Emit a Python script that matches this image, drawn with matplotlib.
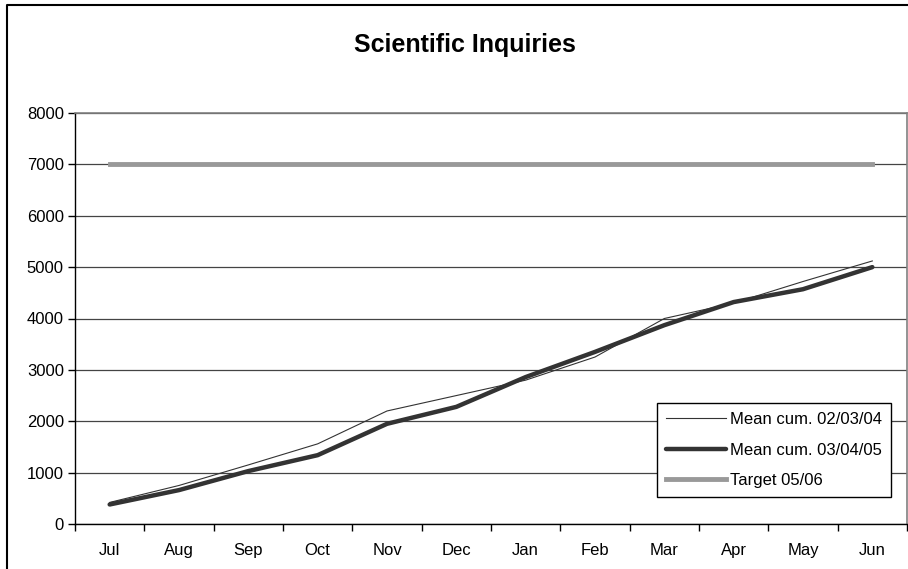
import numpy as np
import matplotlib.pyplot as plt
from matplotlib.lines import Line2D

plt.rcParams['font.family'] = ['Liberation Sans', 'DejaVu Sans']

months = ["Jul", "Aug", "Sep", "Oct", "Nov", "Dec", "Jan", "Feb", "Mar", "Apr", "May", "Jun"]
mean_0304 = [420, 750, 1150, 1560, 2200, 2500, 2800, 3250, 4000, 4300, 4720, 5120]
mean_0405 = [380, 660, 1030, 1340, 1950, 2280, 2860, 3350, 3870, 4320, 4570, 5000]
target_0506 = [7000] * 12

fig = plt.figure(figsize=(9.08, 5.69), dpi=100)
ax = fig.add_axes([75 / 908, 1 - 524 / 569, 832 / 908, 411 / 569])

x = np.arange(len(months))
ax.plot(x, mean_0304, color='#333333', lw=0.8, label="Mean cum. 02/03/04", zorder=3)
ax.plot(x, mean_0405, color='#333333', lw=3.2, label="Mean cum. 03/04/05",
        solid_capstyle='round', zorder=3)
ax.plot(x, target_0506, color='#999999', lw=3.5, label="Target 05/06", zorder=3)

ax.set_xlim(-0.5, len(months) - 0.5)
ax.set_ylim(0, 8000)
ax.set_yticks(np.arange(0, 8001, 1000))
ax.yaxis.grid(True, color='#444444', lw=0.9)
ax.set_axisbelow(True)

# category ticks on boundaries, labels in the middle
ax.set_xticks(np.arange(-0.5, len(months), 1.0))
ax.set_xticklabels([])
ax.set_xticks(x, minor=True)
ax.set_xticklabels(months, minor=True)
ax.tick_params(axis='x', which='minor', length=0, pad=14, labelsize=12)
ax.tick_params(axis='x', which='major', length=5, width=1, direction='out')
ax.tick_params(axis='y', length=5, width=1, direction='out', labelsize=12, pad=3)

for s in ['left', 'bottom']:
    ax.spines[s].set_color('black')
    ax.spines[s].set_linewidth(1)
for s in ['top', 'right']:
    ax.spines[s].set_color('#808080')
    ax.spines[s].set_linewidth(1.2)

fig.text(465 / 908, 1 - 52 / 569, "Scientific Inquiries", ha='center', va='baseline',
         fontsize=18, fontweight='bold')

leg = ax.legend(loc='upper left', bbox_to_anchor=(657 / 908, 1 - 403 / 569),
                bbox_transform=fig.transFigure, fontsize=12, frameon=True,
                fancybox=False, framealpha=1, edgecolor='black',
                handlelength=3.6, handletextpad=0.2, labelspacing=0.93,
                borderpad=0.55, borderaxespad=0)
leg.get_frame().set_linewidth(1)

# outer chart border
fig.add_artist(Line2D([7 / 908, 7 / 908, 1.0], [0.0, 1 - 5 / 569, 1 - 5 / 569],
                      transform=fig.transFigure, color='black', lw=1.5))

fig.savefig("out.png", dpi=100)
